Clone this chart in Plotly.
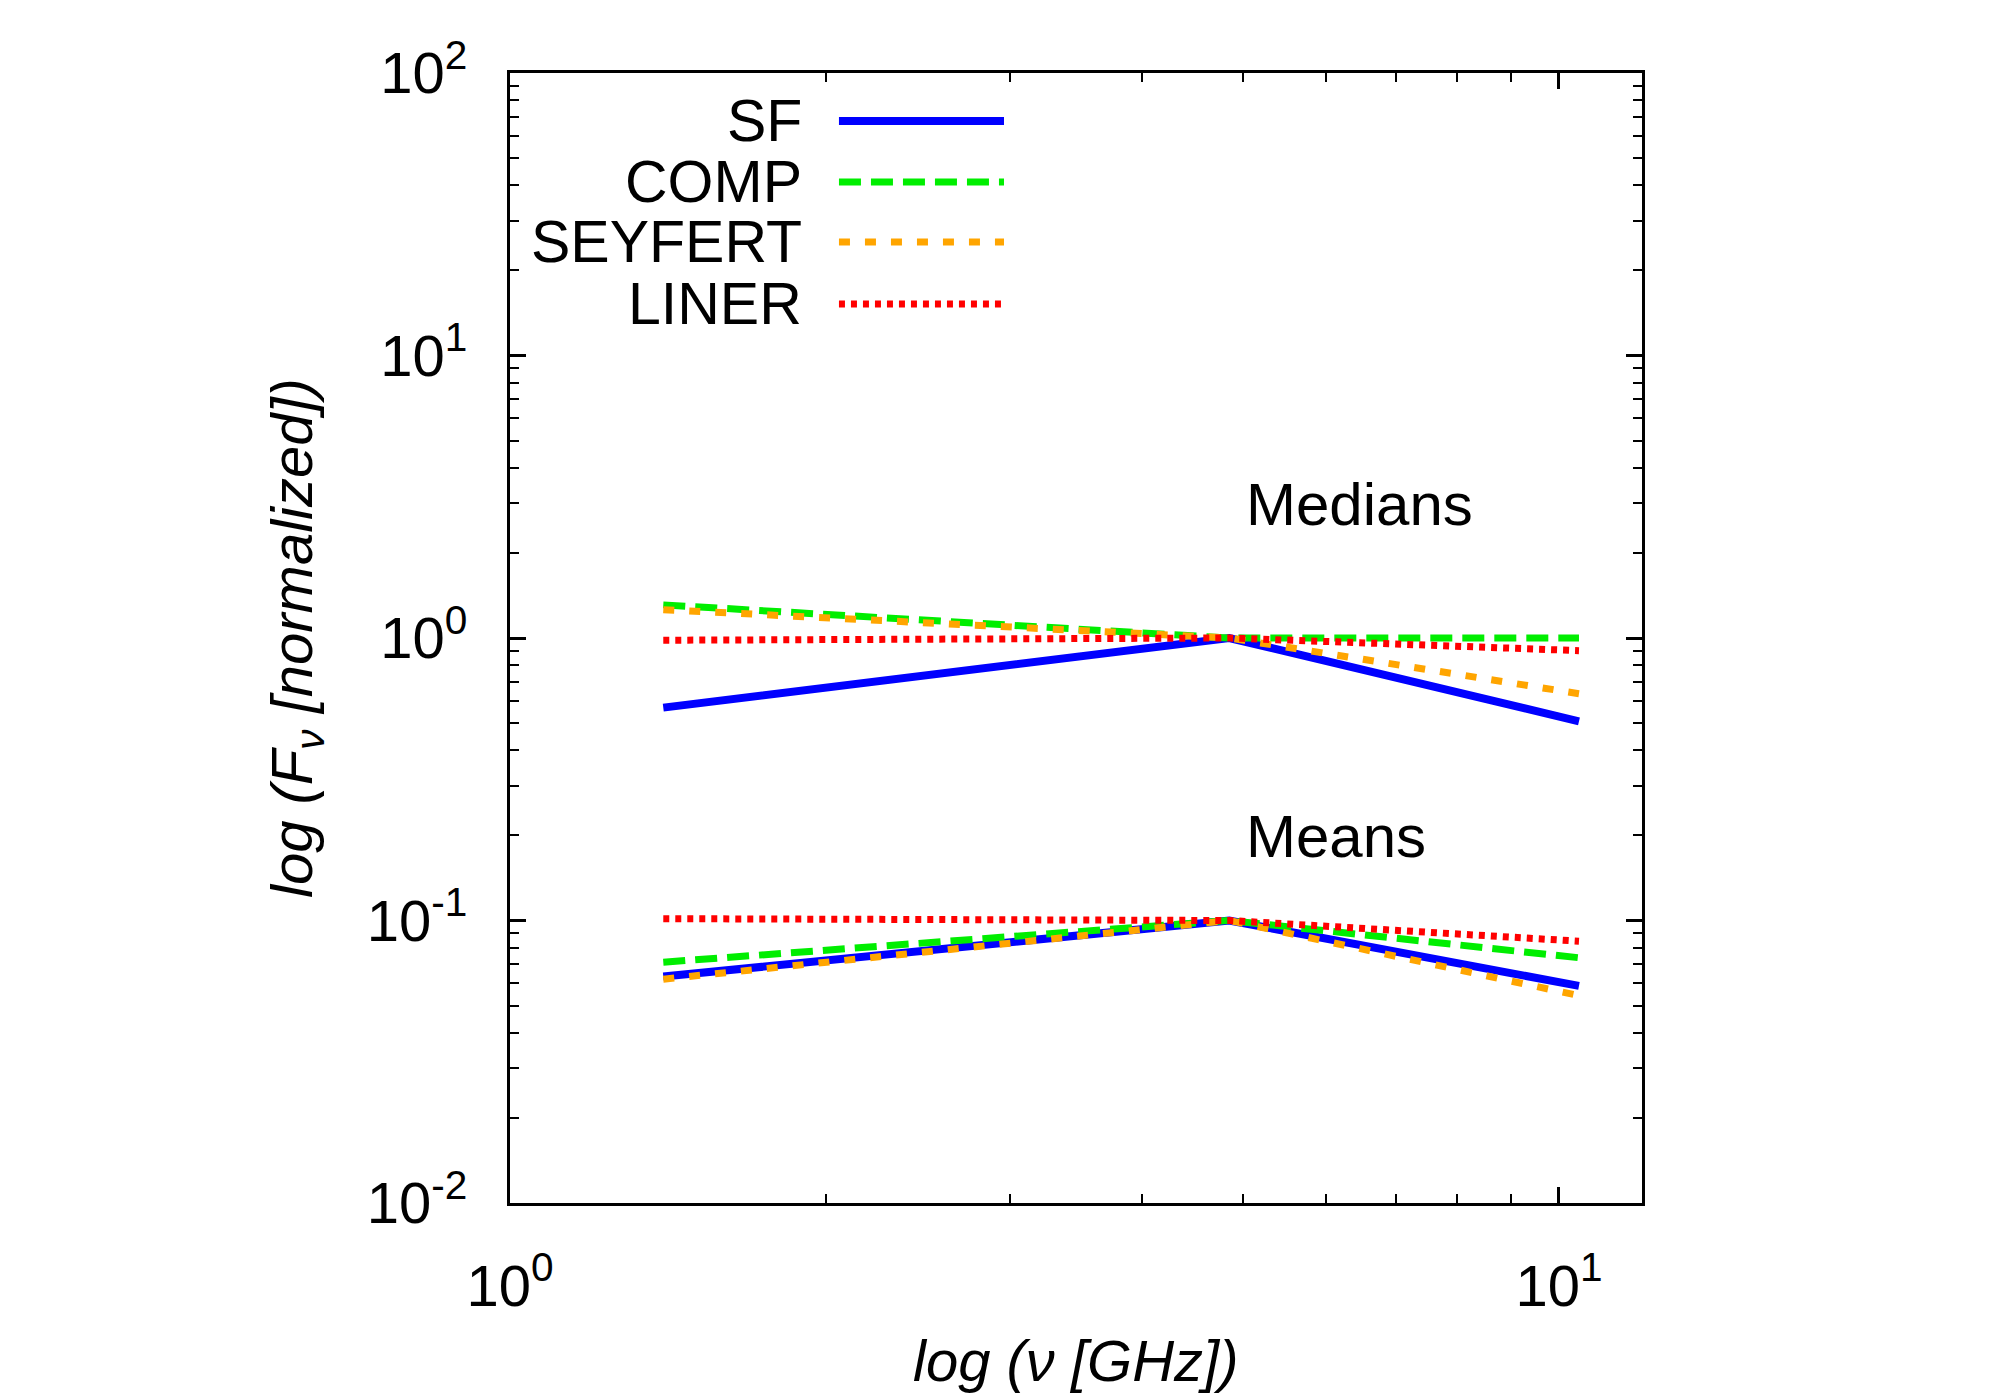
import plotly.graph_objects as go

# Frequencies (GHz)
freq = [1.4, 4.85, 10.45]

# Medians (normalized to 1 at 4.85 GHz)
med_sf = [0.567, 1.0, 0.507]
med_comp = [1.31, 1.0, 1.0]
med_sey = [1.26, 1.0, 0.635]
med_liner = [0.982, 1.0, 0.902]

# Means (normalized to 0.1 at 4.85 GHz)
mean_sf = [0.0633, 0.1, 0.0587]
mean_comp = [0.0712, 0.1, 0.0738]
mean_sey = [0.0620, 0.1, 0.0542]
mean_liner = [0.1015, 0.1, 0.0845]

names = ["SF", "COMP", "SEYFERT", "LINER"]
colors = ["#0000ff", "#00ee00", "#ffa500", "#ff0000"]
dashes = ["solid", "22px,10px", "11px,15px", "6px,6px"]
widths = [8, 7, 7, 7]

y_ticks = [0.01, 0.1, 1, 10, 100]
y_ticktext = ["10<sup>-2</sup>", "10<sup>-1</sup>", "10<sup>0</sup>", "10<sup>1</sup>", "10<sup>2</sup>"]
x_ticks = [1, 10]
x_ticktext = ["10<sup>0</sup>", "10<sup>1</sup>"]

FONT = "Liberation Sans, Arial, Helvetica, sans-serif"

fig = go.Figure()
medians = [med_sf, med_comp, med_sey, med_liner]
means = [mean_sf, mean_comp, mean_sey, mean_liner]
for i in range(4):
    for series in (medians[i], means[i]):
        fig.add_trace(go.Scatter(
            x=freq, y=series, mode="lines", name=names[i], showlegend=False,
            line=dict(color=colors[i], width=widths[i], dash=dashes[i]),
        ))

x_minor = [2, 3, 4, 5, 6, 7, 8, 9]
y_minor = [m * d for d in [0.01, 0.1, 1, 10] for m in range(2, 10)]

axis_common = dict(
    type="log", showline=True, linecolor="black", linewidth=3, mirror="allticks",
    ticks="inside", ticklen=16, tickwidth=2.5, tickcolor="black",
    showgrid=False, zeroline=False,
    tickfont=dict(family=FONT, size=58, color="black"),
)

fig.update_xaxes(
    **axis_common, range=[0, 1.0792], tickmode="array", tickvals=x_ticks, ticktext=x_ticktext,
    minor=dict(tickmode="array", tickvals=x_minor, ticks="inside", ticklen=9, tickwidth=2, tickcolor="black"),
    ticklabelstandoff=30,
)
fig.update_yaxes(
    **axis_common, range=[-2, 2], tickmode="array", tickvals=y_ticks, ticktext=y_ticktext,
    minor=dict(tickmode="array", tickvals=y_minor, ticks="inside", ticklen=9, tickwidth=2, tickcolor="black"),
    ticklabelstandoff=28,
)

annotations = [
    dict(x=0.5, y=0, xref="paper", yref="paper", yshift=-157, showarrow=False,
         text="<i>log (ν [GHz])</i>", font=dict(family=FONT, size=58, color="black"),
         xanchor="center", yanchor="middle"),
    dict(x=0, y=0.5, xref="paper", yref="paper", xshift=-214, showarrow=False, textangle=-90,
         text="<i>log (F<sub>ν</sub> [normalized])</i>", font=dict(family=FONT, size=58, color="black"),
         xanchor="center", yanchor="middle"),
    dict(x=0.700, y=0.471, xref="x", yref="y", showarrow=False, text="Medians",
         font=dict(family=FONT, size=60, color="black"), xanchor="left", yanchor="middle"),
    dict(x=0.700, y=-0.704, xref="x", yref="y", showarrow=False, text="Means",
         font=dict(family=FONT, size=60, color="black"), xanchor="left", yanchor="middle"),
]

# Legend (text to the left of line samples, as in the original)
leg_y = [0.9575, 0.9035, 0.8504, 0.7956]
shapes = []
for i in range(4):
    annotations.append(dict(x=0.2597, y=leg_y[i], xref="paper", yref="paper", showarrow=False,
                            text=names[i], font=dict(family=FONT, size=59, color="black"),
                            xanchor="right", yanchor="middle"))
    shapes.append(dict(type="line", xref="paper", yref="paper", x0=0.2906, x1=0.4364,
                       y0=leg_y[i], y1=leg_y[i],
                       line=dict(color=colors[i], width=widths[i], dash=dashes[i])))

fig.update_layout(
    width=2000, height=1400,
    margin=dict(l=510, r=358, t=73, b=197),
    paper_bgcolor="white", plot_bgcolor="white",
    annotations=annotations, shapes=shapes,
    showlegend=False,
    font=dict(family=FONT, color="black"),
)

fig.write_html("out.html")
